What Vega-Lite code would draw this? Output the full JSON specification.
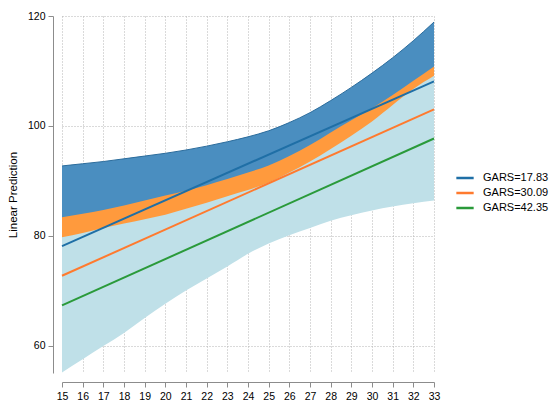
{
  "$schema": "https://vega.github.io/schema/vega-lite/v6.json",
  "width": 372, "height": 357,
  "autosize": {"type": "none"},
  "padding": {"left": 62, "top": 16, "right": 116, "bottom": 37},
  "background": "white",
  "config": {
    "view": {"stroke": null},
    "font": "Liberation Sans",
    "axis": {"labelFont": "Liberation Sans", "titleFont": "Liberation Sans"},
    "legend": {"labelFont": "Liberation Sans"}
  },
  "datasets": {
    "bands": [
      {"x": 15, "b_lo": 63.5, "b_hi": 92.7, "o_lo": 62.05, "o_hi": 83.35, "g_lo": 55.1, "g_hi": 79.7},
      {"x": 16, "b_lo": 66.4, "b_hi": 93.1, "o_lo": 64.8, "o_hi": 84.0, "g_lo": 57.5, "g_hi": 80.5},
      {"x": 17, "b_lo": 69.4, "b_hi": 93.5, "o_lo": 67.5, "o_hi": 84.7, "g_lo": 59.9, "g_hi": 81.4},
      {"x": 18, "b_lo": 72.2, "b_hi": 94.0, "o_lo": 70.0, "o_hi": 85.5, "g_lo": 62.3, "g_hi": 82.2},
      {"x": 19, "b_lo": 75.0, "b_hi": 94.5, "o_lo": 72.4, "o_hi": 86.4, "g_lo": 65.0, "g_hi": 83.0},
      {"x": 20, "b_lo": 77.9, "b_hi": 95.0, "o_lo": 74.9, "o_hi": 87.3, "g_lo": 67.6, "g_hi": 83.8},
      {"x": 21, "b_lo": 80.6, "b_hi": 95.6, "o_lo": 77.4, "o_hi": 88.2, "g_lo": 70.0, "g_hi": 84.9},
      {"x": 22, "b_lo": 83.2, "b_hi": 96.3, "o_lo": 79.8, "o_hi": 89.2, "g_lo": 72.2, "g_hi": 86.0},
      {"x": 23, "b_lo": 85.8, "b_hi": 97.1, "o_lo": 82.1, "o_hi": 90.3, "g_lo": 74.4, "g_hi": 87.2},
      {"x": 24, "b_lo": 88.2, "b_hi": 98.0, "o_lo": 84.2, "o_hi": 91.5, "g_lo": 76.7, "g_hi": 88.3},
      {"x": 25, "b_lo": 90.4, "b_hi": 99.1, "o_lo": 86.2, "o_hi": 92.8, "g_lo": 78.6, "g_hi": 89.7},
      {"x": 26, "b_lo": 92.3, "b_hi": 100.6, "o_lo": 87.9, "o_hi": 94.5, "g_lo": 80.1, "g_hi": 91.5},
      {"x": 27, "b_lo": 93.8, "b_hi": 102.4, "o_lo": 89.3, "o_hi": 96.5, "g_lo": 81.4, "g_hi": 93.5},
      {"x": 28, "b_lo": 94.9, "b_hi": 104.6, "o_lo": 90.3, "o_hi": 98.8, "g_lo": 82.7, "g_hi": 95.8},
      {"x": 29, "b_lo": 95.9, "b_hi": 107.0, "o_lo": 91.3, "o_hi": 101.0, "g_lo": 83.7, "g_hi": 98.2},
      {"x": 30, "b_lo": 96.6, "b_hi": 109.6, "o_lo": 92.4, "o_hi": 103.2, "g_lo": 84.6, "g_hi": 100.8},
      {"x": 31, "b_lo": 97.1, "b_hi": 112.4, "o_lo": 93.5, "o_hi": 105.6, "g_lo": 85.3, "g_hi": 103.8},
      {"x": 32, "b_lo": 97.4, "b_hi": 115.5, "o_lo": 94.4, "o_hi": 108.2, "g_lo": 85.9, "g_hi": 106.7},
      {"x": 33, "b_lo": 97.3, "b_hi": 118.9, "o_lo": 95.2, "o_hi": 110.8, "g_lo": 86.4, "g_hi": 109.1}
    ],
    "lines": [
      {"x": 15, "gars": "GARS=17.83", "pred": 78.1},
      {"x": 33, "gars": "GARS=17.83", "pred": 108.1},
      {"x": 15, "gars": "GARS=30.09", "pred": 72.7},
      {"x": 33, "gars": "GARS=30.09", "pred": 103.0},
      {"x": 15, "gars": "GARS=42.35", "pred": 67.3},
      {"x": 33, "gars": "GARS=42.35", "pred": 97.7}
    ]
  },
  "data": {"name": "bands"},
  "encoding": {
    "x": {
      "field": "x", "type": "quantitative", "title": null,
      "scale": {"domain": [15, 33], "nice": false, "zero": false},
      "axis": {
        "values": [15, 16, 17, 18, 19, 20, 21, 22, 23, 24, 25, 26, 27, 28, 29, 30, 31, 32, 33],
        "offset": 9, "tickSize": 5, "labelPadding": 4, "labelFontSize": 10.5,
        "labelColor": "#000", "domainColor": "#8c8c8c", "tickColor": "#8c8c8c",
        "labelFlush": false, "grid": true, "gridDash": [1, 2], "gridColor": "#b4b4b4"
      }
    }
  },
  "layer": [
    {
      "mark": {"type": "area", "interpolate": "monotone", "color": "#4a8ec0", "opacity": 1},
      "encoding": {
        "y": {
          "field": "b_hi", "type": "quantitative", "title": "Linear Prediction",
          "scale": {"domain": [55, 120], "nice": false, "zero": false},
          "axis": {
            "values": [60, 80, 100, 120], "offset": 9, "tickSize": 5, "labelPadding": 3,
            "labelFontSize": 10.5, "labelColor": "#000", "domainColor": "#8c8c8c", "tickColor": "#8c8c8c",
            "titleFontSize": 11.5, "titleFontWeight": "normal", "titleColor": "#000", "titlePadding": 9,
            "labelFlush": false, "grid": true, "gridDash": [1, 2], "gridColor": "#b4b4b4"
          }
        },
        "y2": {"field": "b_lo"}
      }
    },
    {
      "mark": {"type": "line", "interpolate": "monotone", "color": "#2b6c9c", "strokeWidth": 1},
      "encoding": {
        "y": {
          "field": "b_hi", "type": "quantitative", "title": "Linear Prediction",
          "scale": {"domain": [55, 120], "nice": false, "zero": false},
          "axis": {
            "values": [60, 80, 100, 120], "offset": 9, "tickSize": 5, "labelPadding": 3,
            "labelFontSize": 10.5, "labelColor": "#000", "domainColor": "#8c8c8c", "tickColor": "#8c8c8c",
            "titleFontSize": 11.5, "titleFontWeight": "normal", "titleColor": "#000", "titlePadding": 9,
            "labelFlush": false, "grid": true, "gridDash": [1, 2], "gridColor": "#b4b4b4"
          }
        }
      }
    },
    {
      "mark": {"type": "area", "interpolate": "monotone", "color": "#ff9a3d", "opacity": 1},
      "encoding": {
        "y": {
          "field": "o_hi", "type": "quantitative", "title": "Linear Prediction",
          "scale": {"domain": [55, 120], "nice": false, "zero": false},
          "axis": {
            "values": [60, 80, 100, 120], "offset": 9, "tickSize": 5, "labelPadding": 3,
            "labelFontSize": 10.5, "labelColor": "#000", "domainColor": "#8c8c8c", "tickColor": "#8c8c8c",
            "titleFontSize": 11.5, "titleFontWeight": "normal", "titleColor": "#000", "titlePadding": 9,
            "labelFlush": false, "grid": true, "gridDash": [1, 2], "gridColor": "#b4b4b4"
          }
        },
        "y2": {"field": "o_lo"}
      }
    },
    {
      "mark": {"type": "area", "interpolate": "monotone", "color": "#bfe0e8", "opacity": 1},
      "encoding": {
        "y": {
          "field": "g_hi", "type": "quantitative", "title": "Linear Prediction",
          "scale": {"domain": [55, 120], "nice": false, "zero": false},
          "axis": {
            "values": [60, 80, 100, 120], "offset": 9, "tickSize": 5, "labelPadding": 3,
            "labelFontSize": 10.5, "labelColor": "#000", "domainColor": "#8c8c8c", "tickColor": "#8c8c8c",
            "titleFontSize": 11.5, "titleFontWeight": "normal", "titleColor": "#000", "titlePadding": 9,
            "labelFlush": false, "grid": true, "gridDash": [1, 2], "gridColor": "#b4b4b4"
          }
        },
        "y2": {"field": "g_lo"}
      }
    },
    {
      "data": {"name": "lines"},
      "mark": {"type": "line", "strokeWidth": 2},
      "encoding": {
        "y": {
          "field": "pred", "type": "quantitative", "title": "Linear Prediction",
          "scale": {"domain": [55, 120], "nice": false, "zero": false},
          "axis": {
            "values": [60, 80, 100, 120], "offset": 9, "tickSize": 5, "labelPadding": 3,
            "labelFontSize": 10.5, "labelColor": "#000", "domainColor": "#8c8c8c", "tickColor": "#8c8c8c",
            "titleFontSize": 11.5, "titleFontWeight": "normal", "titleColor": "#000", "titlePadding": 9,
            "labelFlush": false, "grid": true, "gridDash": [1, 2], "gridColor": "#b4b4b4"
          }
        },
        "color": {
          "field": "gars", "type": "nominal",
          "scale": {"domain": ["GARS=17.83", "GARS=30.09", "GARS=42.35"], "range": ["#1f6fa6", "#ff7a2e", "#2a9a3a"]},
          "legend": {
            "title": null, "orient": "none", "legendX": 393, "legendY": 152,
            "symbolType": "stroke", "symbolSize": 300, "symbolStrokeWidth": 2.5,
            "labelFontSize": 11, "labelColor": "#000", "labelOffset": 8, "rowPadding": 0, "padding": 0
          }
        }
      }
    }
  ]
}
